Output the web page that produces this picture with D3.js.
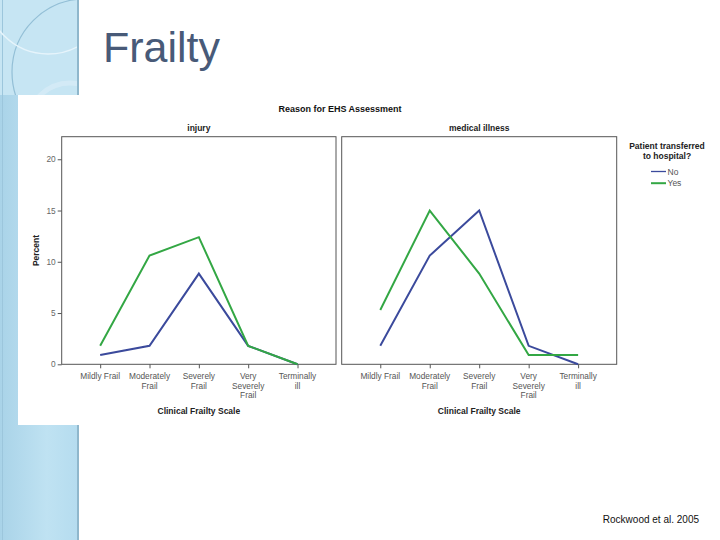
<!DOCTYPE html>
<html><head><meta charset="utf-8">
<script src="https://cdn.jsdelivr.net/npm/d3@7"></script>
<style>html,body{margin:0;padding:0;background:#fff;overflow:hidden}svg{display:block}</style>
</head><body>
<script>
// ---- data ----
const categories = ["Mildly Frail","Moderately Frail","Severely Frail","Very Severely Frail","Terminally ill"];
const categoryLines = [["Mildly Frail"],["Moderately","Frail"],["Severely","Frail"],["Very","Severely","Frail"],["Terminally","ill"]];
const facets = ["injury","medical illness"];
const seriesNames = ["No","Yes"];
const injuryNo = [0.9,1.8,8.85,1.8,0];
const injuryYes = [1.8,10.6,12.4,1.8,0];
const medicalNo = [1.8,10.6,15.0,1.8,0];
const medicalYes = [5.3,15.0,8.85,0.9,0.9];
const yTicks = [0,5,10,15,20];

const W=720,H=540;
const svg=d3.select("body").append("svg").attr("width",W).attr("height",H);
const defs=svg.append("defs");
const g1=defs.append("linearGradient").attr("id","strip").attr("x1",0).attr("x2",1).attr("y1",0).attr("y2",0);
g1.append("stop").attr("offset","0%").attr("stop-color","#a9d3e8");
g1.append("stop").attr("offset","60%").attr("stop-color","#bfe2f2");
g1.append("stop").attr("offset","100%").attr("stop-color","#b5dcef");
defs.append("clipPath").attr("id","clipTop").append("rect").attr("x",0).attr("y",0).attr("width",77).attr("height",95);

// left decorative strip
svg.append("rect").attr("x",0).attr("y",0).attr("width",78).attr("height",H).attr("fill","url(#strip)");
svg.append("rect").attr("x",0).attr("y",0).attr("width",78).attr("height",95).attr("fill","#c6e5f3");
svg.append("rect").attr("x",2).attr("y",0).attr("width",1).attr("height",H).attr("fill","#9cc6dc");
svg.append("rect").attr("x",77).attr("y",0).attr("width",2).attr("height",H).attr("fill","#8fb7cc");
const deco=svg.append("g").attr("fill","none").attr("clip-path","url(#clipTop)");
deco.append("circle").attr("cx",85).attr("cy",72).attr("r",73).attr("stroke","#93bfd6").attr("stroke-width",1.2);
deco.append("circle").attr("cx",48).attr("cy",-8).attr("r",62).attr("stroke","#e6f4fb").attr("stroke-width",1.5);
deco.append("circle").attr("cx",70).attr("cy",125).attr("r",42).attr("stroke","#d8edf7").attr("stroke-width",5).attr("opacity",0.7);

// white chart image
svg.append("rect").attr("x",18).attr("y",95).attr("width",W-18).attr("height",330).attr("fill","#fff");

// slide title
svg.append("text").attr("x",103).attr("y",62).text("Frailty")
  .attr("font-family","Liberation Sans, Arial, sans-serif").attr("font-size",43).attr("fill","#485a78");

// citation
svg.append("text").attr("x",699).attr("y",523).attr("text-anchor","end").text("Rockwood et al. 2005")
  .attr("font-family","Liberation Sans, Arial, sans-serif").attr("font-size",10).attr("fill","#111");

const font="Liberation Sans, Arial, sans-serif";
const colors={No:"#3b4a9c",Yes:"#33a744"};

// chart title
svg.append("text").attr("x",340).attr("y",112).attr("text-anchor","middle").text("Reason for EHS Assessment")
  .attr("font-family",font).attr("font-size",9).attr("font-weight","bold").attr("fill","#111");

const y=d3.scaleLinear().domain([0,22.2]).range([364.3,136.7]);
const panels=[
  {name:facets[0],x0:61.7,x1:336,data:{No:injuryNo,Yes:injuryYes}},
  {name:facets[1],x0:341.7,x1:616.7,data:{No:medicalNo,Yes:medicalYes}}
];

panels.forEach((p,i)=>{
  const x=d3.scalePoint().domain(categories).range([p.x0,p.x1]).padding(0.78);
  const g=svg.append("g");
  g.append("rect").attr("x",p.x0).attr("y",y.range()[1]).attr("width",p.x1-p.x0).attr("height",y.range()[0]-y.range()[1])
    .attr("fill","none").attr("stroke","#555").attr("stroke-width",1);
  g.append("text").attr("x",(p.x0+p.x1)/2).attr("y",131).attr("text-anchor","middle").text(p.name)
    .attr("font-family",font).attr("font-size",8.5).attr("font-weight","bold").attr("fill","#222");
  const xa=g.append("g").attr("transform",`translate(0,${y(0)})`)
    .call(d3.axisBottom(x).tickSize(4).tickFormat(""));
  xa.select(".domain").remove();
  xa.selectAll("line").attr("stroke","#555");
  categories.forEach((c,k)=>{
    const t=g.append("text").attr("x",x(c)).attr("text-anchor","middle")
      .attr("font-family",font).attr("font-size",8.3).attr("fill","#555");
    categoryLines[k].forEach((ln,j)=>t.append("tspan").attr("x",x(c)).attr("y",379+j*9.5).text(ln));
  });
  g.append("text").attr("x",(p.x0+p.x1)/2).attr("y",414).attr("text-anchor","middle").text("Clinical Frailty Scale")
    .attr("font-family",font).attr("font-size",8.5).attr("font-weight","bold").attr("fill","#222");
  if(i===0){
    const ya=g.append("g").attr("transform",`translate(${p.x0},0)`)
      .call(d3.axisLeft(y).tickValues(yTicks).tickSize(4).tickPadding(2));
    ya.select(".domain").remove();
    ya.selectAll("line").attr("stroke","#555");
    ya.selectAll("text").attr("font-family",font).attr("font-size",8.3).attr("fill","#666");
    g.append("text").attr("transform",`translate(39,${(y.range()[0]+y.range()[1])/2}) rotate(-90)`)
      .attr("text-anchor","middle").text("Percent")
      .attr("font-family",font).attr("font-size",8.5).attr("font-weight","bold").attr("fill","#222");
  }
  const line=d3.line().x((d,k)=>x(categories[k])).y(d=>y(d));
  seriesNames.forEach(s=>{
    g.append("path").datum(p.data[s]).attr("d",line).attr("fill","none")
      .attr("stroke",colors[s]).attr("stroke-width",2).attr("stroke-linejoin","miter");
  });
});

// legend
const lg=svg.append("g");
lg.append("text").attr("x",667).attr("y",149).attr("text-anchor","middle").text("Patient transferred")
  .attr("font-family",font).attr("font-size",8.5).attr("font-weight","bold").attr("fill","#222");
lg.append("text").attr("x",667).attr("y",159).attr("text-anchor","middle").text("to hospital?")
  .attr("font-family",font).attr("font-size",8.5).attr("font-weight","bold").attr("fill","#222");
seriesNames.forEach((s,k)=>{
  const yy=171.5+k*11.7;
  lg.append("line").attr("x1",651).attr("x2",666).attr("y1",yy).attr("y2",yy)
    .attr("stroke",colors[s]).attr("stroke-width",s==="Yes"?2:1.3);
  lg.append("text").attr("x",667.5).attr("y",yy+3).text(s)
    .attr("font-family",font).attr("font-size",8.5).attr("font-weight","normal").attr("fill","#555");
});
</script>
</body></html>
